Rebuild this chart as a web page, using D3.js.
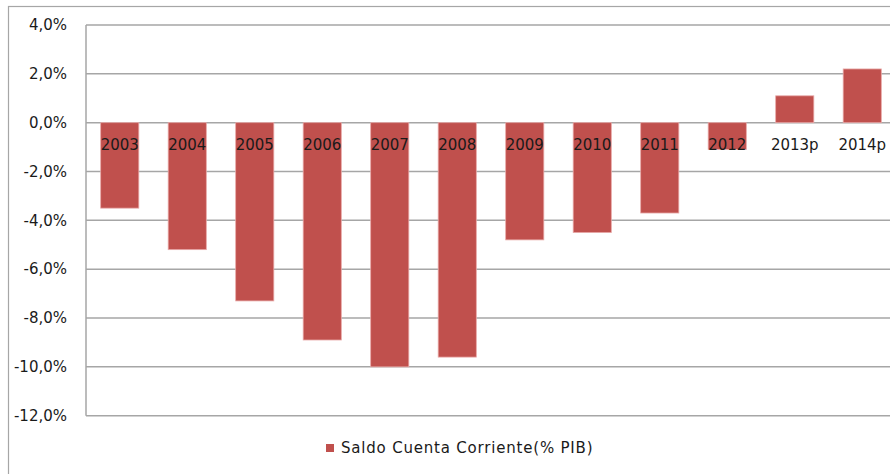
<!DOCTYPE html>
<html>
<head>
<meta charset="utf-8">
<script src="https://cdn.jsdelivr.net/npm/d3@7"></script>
<style>
  body { margin: 0; background: #fff; }
  text { font-family: "DejaVu Sans", Verdana, sans-serif; fill: #1a1a1a; }
</style>
</head>
<body>
<script>
var years = ["2003","2004","2005","2006","2007","2008","2009","2010","2011","2012","2013p","2014p"];
var saldo = [-3.5, -5.2, -7.3, -8.9, -10.0, -9.6, -4.8, -4.5, -3.7, -1.1, 1.1, 2.2];
var yTicks = [4, 2, 0, -2, -4, -6, -8, -10, -12];
var serieName = "Saldo Cuenta Corriente(% PIB)";

var WIDTH = 890, HEIGHT = 474;
var plotLeft = 86, plotRight = 896, plotTop = 25, plotBottom = 415.7;

var svg = d3.select("body").append("svg")
    .attr("width", WIDTH)
    .attr("height", HEIGHT);

// outer frame
svg.append("rect")
    .attr("x", 8.5).attr("y", 6.5)
    .attr("width", 900).attr("height", 500)
    .attr("fill", "none")
    .attr("stroke", "#a6a6a6")
    .attr("stroke-width", 1.2);

var x = d3.scaleBand().domain(years).range([plotLeft, plotRight]).paddingInner(0.435).paddingOuter(0.2175);
var y = d3.scaleLinear().domain([-12, 4]).range([plotBottom, plotTop]);

var fmt = function(d){ return d3.format(".1f")(d).replace(".", ",").replace("−", "-") + "%"; };

// gridlines
svg.append("g").selectAll("line").data(yTicks).enter().append("line")
    .attr("x1", plotLeft).attr("x2", WIDTH)
    .attr("y1", function(d){ return y(d); })
    .attr("y2", function(d){ return y(d); })
    .attr("stroke", "#a6a6a6")
    .attr("stroke-width", 1.5);

svg.append("line")
    .attr("x1", plotLeft).attr("x2", plotLeft)
    .attr("y1", plotTop).attr("y2", plotBottom)
    .attr("stroke", "#a6a6a6")
    .attr("stroke-width", 1.5);

// y tick labels
svg.append("g").selectAll("text").data(yTicks).enter().append("text")
    .attr("x", 67)
    .attr("y", function(d){ return y(d); })
    .attr("dy", "0.35em")
    .attr("text-anchor", "end")
    .style("font-size", "15px")
    .text(fmt);

// bars
svg.append("g").selectAll("rect").data(saldo).enter().append("rect")
    .attr("x", function(d,i){ return x(years[i]); })
    .attr("width", x.bandwidth())
    .attr("y", function(d){ return y(Math.max(0, d)); })
    .attr("height", function(d){ return Math.abs(y(d) - y(0)); })
    .attr("fill", "#c0504d")
    .attr("stroke", "#e8a9a8")
    .attr("stroke-width", 0.8);

// category labels
svg.append("g").selectAll("text").data(years).enter().append("text")
    .attr("x", function(d){ return x(d) + x.bandwidth()/2; })
    .attr("y", y(0) + 22)
    .attr("dy", "0.35em")
    .attr("text-anchor", "middle")
    .style("font-size", "15px")
    .text(function(d){ return d; });

// legend
var lg = svg.append("g").attr("transform", "translate(326,444)");
lg.append("rect").attr("width", 8).attr("height", 8).attr("fill", "#c0504d");
lg.append("text").attr("x", 15).attr("y", 4).attr("dy", "0.35em")
    .style("font-size", "15px")
    .style("letter-spacing", "0.8px")
    .text(serieName);
</script>
</body>
</html>
